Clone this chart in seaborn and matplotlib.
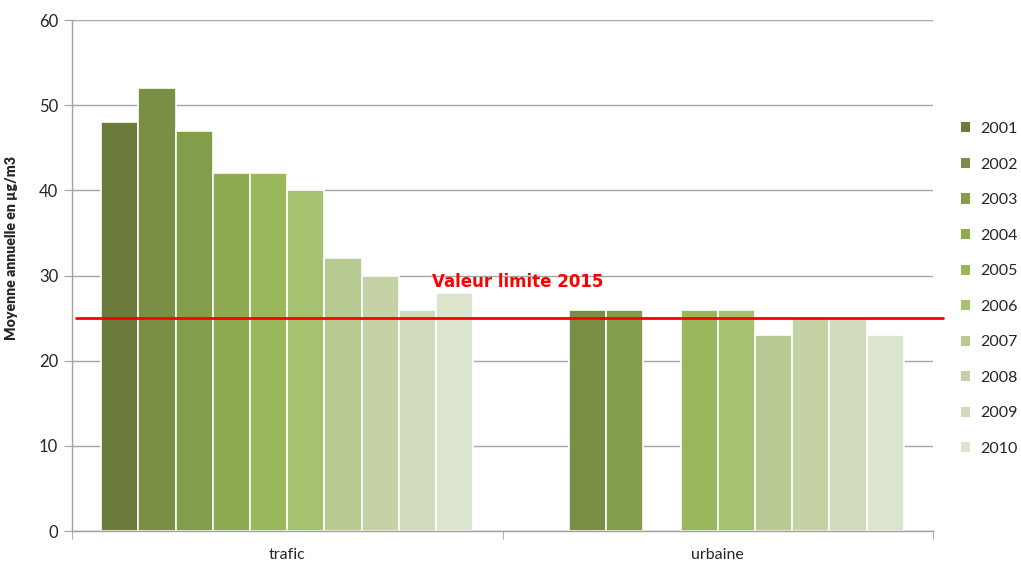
import matplotlib
matplotlib.use("Agg")
import matplotlib.pyplot as plt
import seaborn as sns
import pandas as pd
import numpy as np
from matplotlib.patches import Patch

years = ['2001', '2002', '2003', '2004', '2005', '2006', '2007', '2008', '2009', '2010']
sites = ['trafic', 'urbaine']
trafic = [48, 52, 47, 42, 42, 40, 32, 30, 26, 28]
urbaine = [None, 26, 26, None, 26, 26, 23, 25, 25, 23]
limit_value = 25
limit_label = 'Valeur limite 2015'
ylabel = 'Moyenne annuelle en µg/m3'
colors = ['#6B7B3C', '#7A8F45', '#849D4A', '#8FAB51', '#9BB75B', '#A6C170',
          '#B7CA92', '#C4D2A6', '#D0DBBB', '#DBE4CC']

rows = []
for site, vals in zip(sites, [trafic, urbaine]):
    for y, v in zip(years, vals):
        if v is not None:
            rows.append({'site': site, 'year': y, 'value': v})
df = pd.DataFrame(rows)

sns.set_style('white')
plt.rcParams['font.family'] = ['Lato', 'DejaVu Sans']

fig = plt.figure(figsize=(10.21, 5.64), dpi=100)
ax = fig.add_axes([72/1021, 1-531/564, (933-72)/1021, (531-20)/564])

sns.barplot(data=df, x='site', y='value', hue='year', hue_order=years,
            order=sites, palette=colors, width=0.864, edgecolor='white',
            linewidth=1.2, legend=False, ax=ax, saturation=1)

ax.set_xlim(-0.5, 1.5)
ax.set_ylim(0, 60)
ax.set_yticks(np.arange(0, 61, 10))
ax.yaxis.grid(True, color='#A6A6A6', lw=1)
ax.set_axisbelow(True)
for s in ['top', 'right']:
    ax.spines[s].set_visible(False)
for s in ['left', 'bottom']:
    ax.spines[s].set_color('#A0A0A0')
    ax.spines[s].set_linewidth(1)

ax.tick_params(axis='y', length=6, color='#A0A0A0', labelsize=12, pad=4, left=True, direction='out')
ax.set_xticks([0, 1])
ax.set_xticklabels(sites)
ax.tick_params(axis='x', length=0, labelsize=11.5, pad=12)
ax.set_xticks([-0.5, 0.5, 1.5], minor=True)
ax.tick_params(axis='x', which='minor', length=6, color='#A0A0A0', direction='out', bottom=True)

ax.set_xlabel('')
ax.set_ylabel(ylabel, fontsize=10.2, fontweight='heavy', family=['Lato', 'DejaVu Sans'])
ax.yaxis.set_label_coords(-0.0627, 0.554)

ax.axhline(limit_value, xmin=0.005, xmax=1.012, color='#FF0000', lw=2, clip_on=False, zorder=5)
ax.text(0.336, 29.2, limit_label, color='#FF0000', fontsize=12, fontweight='bold',
        va='center', ha='left', family=['DejaVu Sans'])

handles = [Patch(facecolor=c, edgecolor='none') for c in colors]
fig.legend(handles, years, loc='center left', bbox_to_anchor=(956/1021, 1-289/564),
           frameon=False, fontsize=11.5, handlelength=0.6, handleheight=0.6,
           handletextpad=0.6, labelspacing=1.35, borderaxespad=0, borderpad=0.3)

fig.savefig('out.png', dpi=100)
